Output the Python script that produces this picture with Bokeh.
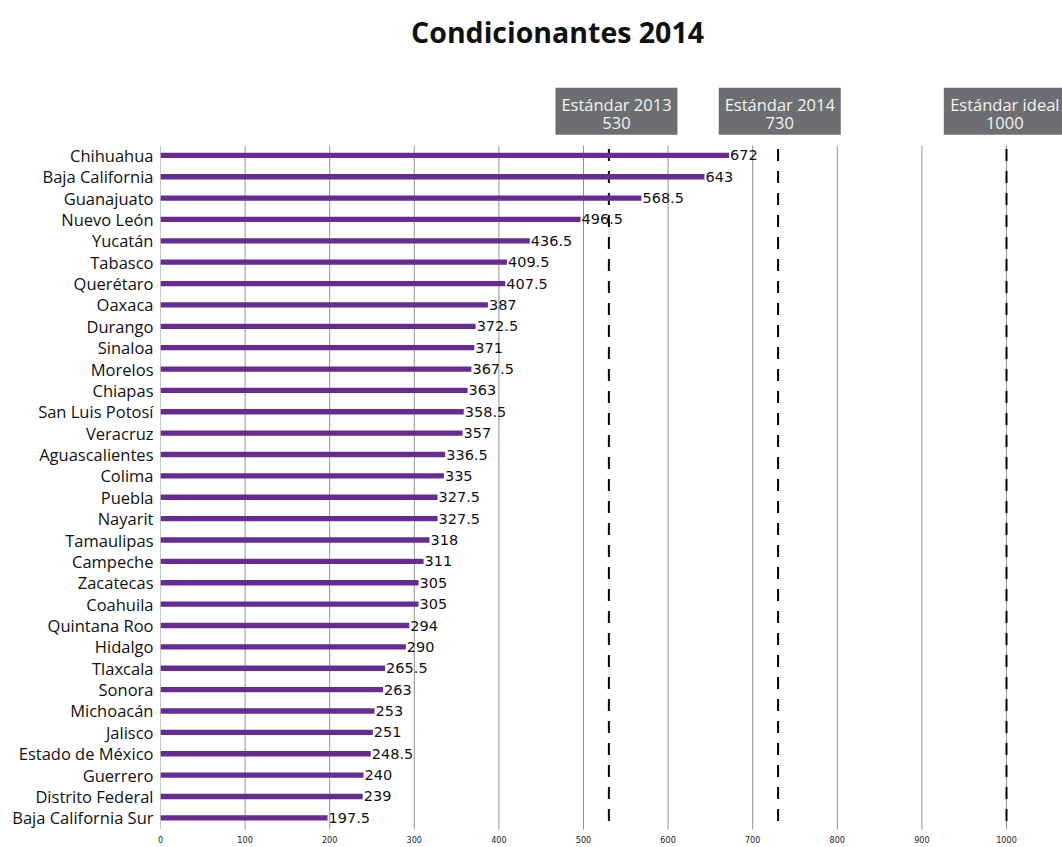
from bokeh.plotting import figure
from bokeh.models import Range1d, FixedTicker
from bokeh.core.properties import value
from bokeh.embed import file_html
from bokeh.resources import INLINE

# ---------------- data ----------------
title_text = "Condicionantes 2014"
states = [
    "Chihuahua", "Baja California", "Guanajuato", "Nuevo León", "Yucatán",
    "Tabasco", "Querétaro", "Oaxaca", "Durango", "Sinaloa", "Morelos",
    "Chiapas", "San Luis Potosí", "Veracruz", "Aguascalientes", "Colima",
    "Puebla", "Nayarit", "Tamaulipas", "Campeche", "Zacatecas", "Coahuila",
    "Quintana Roo", "Hidalgo", "Tlaxcala", "Sonora", "Michoacán", "Jalisco",
    "Estado de México", "Guerrero", "Distrito Federal", "Baja California Sur",
]
scores = [
    672, 643, 568.5, 496.5, 436.5, 409.5, 407.5, 387, 372.5, 371, 367.5,
    363, 358.5, 357, 336.5, 335, 327.5, 327.5, 318, 311, 305, 305,
    294, 290, 265.5, 263, 253, 251, 248.5, 240, 239, 197.5,
]
standard_names = ["Estándar 2013", "Estándar 2014", "Estándar ideal"]
standard_values = [530, 730, 1000]
x_ticks = [0, 100, 200, 300, 400, 500, 600, 700, 800, 900, 1000]

# ---------------- styles ----------------
BAR = "#662d8c"
BOX = "#6d6e71"
GRID = "#8f8f8f"
FONT = "Open Sans"

n = len(states)
ypos = [n - 1 - i for i in range(n)]
top_row = n - 1
y_lo, y_hi = -0.545, top_row + 7.245

p = figure(width=1062, height=847, output_backend="svg", toolbar_location=None,
           x_range=Range1d(0, 1066.2), y_range=Range1d(y_lo, y_hi),
           min_border_left=160, min_border_right=0, min_border_top=0,
           min_border_bottom=18)
p.outline_line_color = None
p.xgrid.visible = False
p.ygrid.visible = False
p.background_fill_color = "white"
p.border_fill_color = "white"

# x axis
xa = p.xaxis[0]
xa.ticker = FixedTicker(ticks=x_ticks)
xa.axis_line_color = None
xa.major_tick_line_color = None
xa.minor_tick_line_color = None
xa.major_tick_out = 0
xa.major_tick_in = 0
xa.major_label_text_font_size = "9px"
xa.major_label_text_font = "DejaVu Sans Condensed"
xa.major_label_text_color = "#222222"
xa.major_label_standoff = 6

# y axis with state names
ya = p.yaxis[0]
ya.ticker = FixedTicker(ticks=ypos)
ya.major_label_overrides = {y: s for y, s in zip(ypos, states)}
ya.axis_line_color = None
ya.major_tick_line_color = None
ya.minor_tick_line_color = None
ya.major_tick_out = 0
ya.major_tick_in = 0
ya.major_label_text_font_size = "16.5px"
ya.major_label_text_font = FONT
ya.major_label_text_color = "#111111"
ya.major_label_standoff = 7

# vertical grid lines
p.segment(x0=x_ticks, y0=[top_row + 0.45] * len(x_ticks), x1=x_ticks,
          y1=[y_lo - 1] * len(x_ticks), line_color=GRID, line_width=1)

# dashed standard lines
p.segment(x0=standard_values, y0=[top_row + 0.3] * 3, x1=standard_values,
          y1=[y_lo - 1] * 3, line_color="black", line_width=2, line_dash="12 10")

# bars
p.hbar(y=ypos, left=0, right=scores, height=0.25, fill_color=BAR, line_color=None)

# value labels
p.text(x=scores, y=ypos, text=[f"{v:g}" for v in scores], x_offset=1,
       text_align="left", text_baseline="middle", text_font_size="14.5px",
       text_font=value("DejaVu Sans"), text_color="#111111")

# standard boxes
box_shift = [9, 2, -2]
box_x = [v + s for v, s in zip(standard_values, box_shift)]
p.rect(x=box_x, y=[top_row + 2.066] * 3, width=122, height=47,
       width_units="screen", height_units="screen", fill_color=BOX, line_color=None)
p.text(x=box_x, y=[top_row + 2.40] * 3, text=standard_names, text_align="center",
       text_baseline="middle", text_font_size="16.5px", text_font=value(FONT),
       text_color="#f2f2f2")
p.text(x=box_x, y=[top_row + 1.49] * 3, text=[str(v) for v in standard_values],
       text_align="center", text_baseline="middle", text_font_size="16.5px",
       text_font=value(FONT), text_color="#f2f2f2")

# title
p.text(x=[469.3], y=[top_row + 5.78], text=[title_text], text_align="center",
       text_baseline="middle", text_font_size="28.5px", text_font=value(FONT),
       text_font_style="bold", text_color="#111111")

open("out.html", "w").write(file_html(p, INLINE))
